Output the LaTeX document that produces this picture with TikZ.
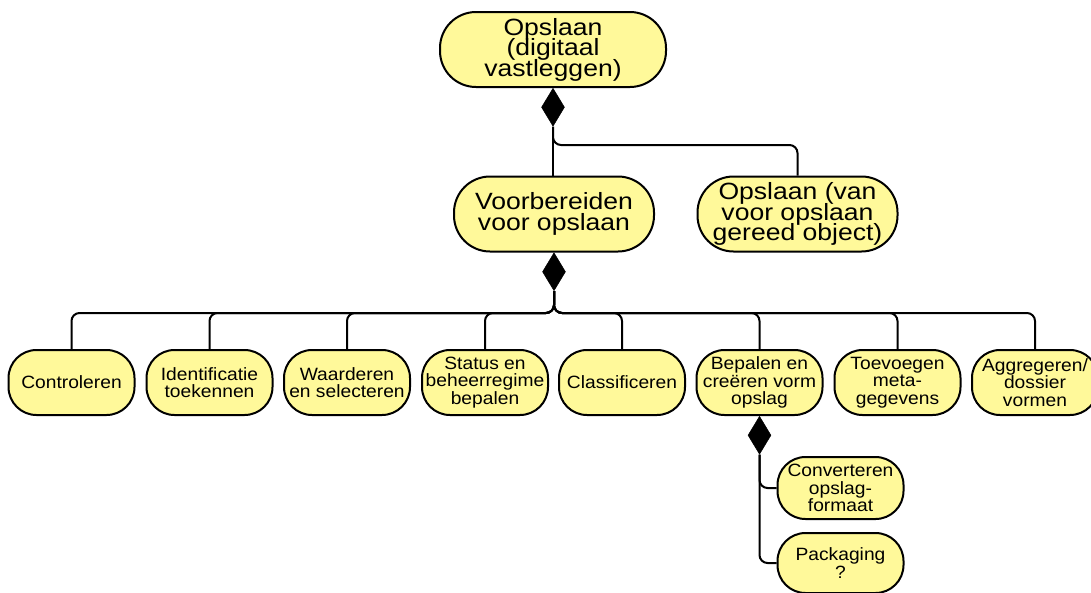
\documentclass[tikz,border=0pt]{standalone}
\usepackage{fontspec}
\setmainfont{Liberation Sans}
\newfontfamily\widebig[FakeStretch=1.13]{Liberation Sans}
\newfontfamily\widesmall[FakeStretch=1.08]{Liberation Sans}
\usetikzlibrary{shapes.geometric,calc}
\definecolor{boxfill}{HTML}{FFF99A}
\lineskiplimit=-100pt
\tikzset{
  bigbox/.style={draw=black, line width=2pt, fill=boxfill, rounded corners=36pt, align=center, inner sep=0pt,
    font=\widebig\fontsize{23.5}{20.5}\selectfont},
  smallbox/.style={draw=black, line width=2pt, fill=boxfill, rounded corners=28pt, align=center, inner sep=0pt,
    minimum width=126pt, minimum height=65pt,
    font=\widesmall\fontsize{17.8}{17.5}\selectfont},
  agg/.style={diamond, fill=black, draw=black, line width=0.5pt, inner sep=0pt, minimum width=23pt, minimum height=38pt, anchor=north},
  conn/.style={draw=black, line width=2pt, rounded corners=8pt},
}
\begin{document}
\begin{tikzpicture}[x=1pt, y=-1pt]
\useasboundingbox (0,0) rectangle (1091,592);
% top level
\node[bigbox, minimum width=226pt, minimum height=75pt] (top) at (553,49.5) {Opslaan\\(digitaal\\vastleggen)};
\node[agg] (d1) at (top.south) {};
\node[bigbox, minimum width=200pt, minimum height=75pt] (vb) at (554,214) {Voorbereiden\\voor opslaan};
\node[bigbox, minimum width=200pt, minimum height=75pt] (ov) at (797.5,214) {Opslaan (van\\voor opslaan\\gereed object)};
\coordinate (bus1) at (553,145);
\draw[conn] (d1.south) -- (d1.south |- vb.north);
\draw[conn] (d1.south) |- (bus1 -| ov.north) -- (ov.north);
% second level
\node[agg] (d2) at (vb.south) {};
\coordinate (bus2) at (553,313);
\node[smallbox] (c1) at (71.5,382.5) {Controleren};
\node[smallbox] (c2) at (209.5,382.5) {Identificatie\\toekennen};
\node[smallbox] (c3) at (347,382.5) {Waarderen\\en selecteren};
\node[smallbox] (c4) at (485,382.5) {Status en\\beheerregime\\bepalen};
\node[smallbox] (c5) at (622,382.5) {Classificeren};
\node[smallbox] (c6) at (759.5,382.5) {Bepalen en\\creëren vorm\\opslag};
\node[smallbox] (c7) at (897.5,382.5) {Toevoegen\\meta-\\gegevens};
\node[smallbox] (c8) at (1035,382.5) {Aggregeren/\\dossier\\vormen};
\foreach \c in {c1,c2,c3,c4,c5,c6,c7,c8}{
  \draw[conn] (d2.south) |- (bus2 -| \c.north) -- (\c.north);
}
% third level
\node[agg] (d3) at (c6.south) {};
\node[smallbox, minimum height=62pt] (cv) at (840.5,488) {Converteren\\opslag-\\formaat};
\node[smallbox, minimum height=60pt] (pk) at (840.5,563) {Packaging\\?};
\draw[conn] (d3.south) |- (cv.west);
\draw[conn] (d3.south) |- (pk.west);
\end{tikzpicture}
\end{document}
